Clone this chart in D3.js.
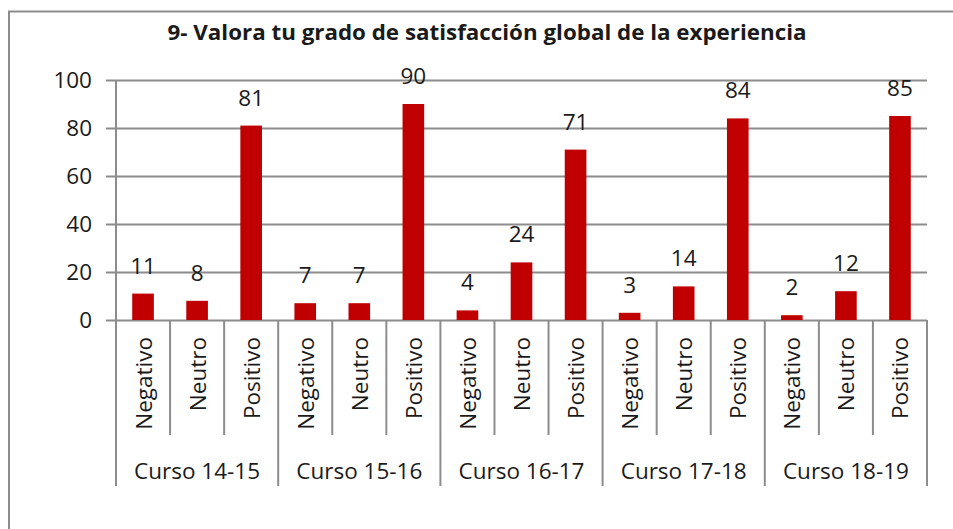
<!DOCTYPE html>
<html>
<head>
<meta charset="utf-8">
<script src="https://cdn.jsdelivr.net/npm/d3@7"></script>
<style>
  body { margin: 0; background: #fff; }
  text { font-family: "Open Sans", Lato, sans-serif; fill: #1a1a1a; }
</style>
</head>
<body>
<div id="chart"></div>
<script>
// Data
var courses = ["Curso 14-15", "Curso 15-16", "Curso 16-17", "Curso 17-18", "Curso 18-19"];
var answers = ["Negativo", "Neutro", "Positivo"];
var valuesByCourse = [
  [11, 8, 81],
  [7, 7, 90],
  [4, 24, 71],
  [3, 14, 84],
  [2, 12, 85]
];
var yTicks = [0, 20, 40, 60, 80, 100];
var title = "9- Valora tu grado de satisfacción global de la experiencia";

// SVG Dimensions
var svgWidth = 953;
var svgHeight = 529;

var margin = { top: 80, right: 26, bottom: 209, left: 116 };
var width = svgWidth - margin.left - margin.right;
var height = svgHeight - margin.top - margin.bottom;

var gridColor = "#8c8c8c";
var barColor = "#c00000";
var fontSize = "22.5px";

// flat rows for the bars
var rows = [];
courses.forEach(function (c, i) {
  answers.forEach(function (a, j) {
    rows.push({ course: c, answer: a, key: c + "|" + a, value: valuesByCourse[i][j], idx: i * 3 + j });
  });
});

var svg = d3.select("#chart")
  .append("svg")
  .attr("width", svgWidth)
  .attr("height", svgHeight);

// chart border
svg.append("rect")
  .attr("x", 9)
  .attr("y", 11.5)
  .attr("width", svgWidth + 10)
  .attr("height", svgHeight + 10)
  .attr("fill", "none")
  .attr("stroke", gridColor)
  .attr("stroke-width", 2);

svg.append("text")
  .attr("x", 487)
  .attr("y", 40)
  .attr("text-anchor", "middle")
  .attr("textLength", 639)
  .attr("lengthAdjust", "spacingAndGlyphs")
  .style("font-size", "21px")
  .style("font-weight", "bold")
  .text(title);

var g = svg.append("g")
  .attr("transform", `translate(${margin.left}, ${margin.top})`);

// Scales
var x = d3.scaleBand()
  .domain(rows.map(d => d.key))
  .range([0, width])
  .paddingInner(0.6)
  .paddingOuter(0.3);

var y = d3.scaleLinear()
  .domain([0, 100])
  .range([height, 0]);

// gridlines
var grid = g.append("g")
  .call(d3.axisLeft(y).tickValues(yTicks).tickSize(-width).tickFormat(""));
grid.select(".domain").remove();
grid.selectAll("line").attr("stroke", gridColor).attr("stroke-width", 2);

// y axis ticks and labels
var yAxis = g.append("g")
  .call(d3.axisLeft(y).tickValues(yTicks).tickSize(10).tickSizeOuter(0).tickPadding(14));
yAxis.select(".domain").remove();
yAxis.selectAll("line").attr("stroke", gridColor).attr("stroke-width", 2);
yAxis.selectAll("text")
  .style("font-size", fontSize)
  .style("font-family", "'Open Sans', sans-serif")
  .attr("fill", "#1a1a1a");

// y axis line, running down through the category area
g.append("line")
  .attr("x1", 0).attr("x2", 0)
  .attr("y1", 0).attr("y2", height + 166)
  .attr("stroke", gridColor).attr("stroke-width", 2);

// category separators
var step = x.step();
var half = (step - x.bandwidth()) / 2;
var bounds = rows.map(d => ({ pos: x(d.key) - half, idx: d.idx }));
bounds.push({ pos: x(rows[rows.length - 1].key) + x.bandwidth() + half, idx: rows.length });

g.append("g").selectAll("line")
  .data(bounds.filter(d => d.idx > 0))
  .enter()
  .append("line")
  .attr("x1", d => d.pos).attr("x2", d => d.pos)
  .attr("y1", height)
  .attr("y2", d => d.idx % 3 === 0 ? height + 166 : height + 115)
  .attr("stroke", gridColor)
  .attr("stroke-width", 2);

// Bars
g.selectAll("rect.bar")
  .data(rows)
  .enter()
  .append("rect")
  .classed("bar", true)
  .attr("x", d => x(d.key))
  .attr("y", d => y(d.value))
  .attr("width", x.bandwidth())
  .attr("height", d => height - y(d.value))
  .attr("fill", barColor);

// value labels
g.append("g").selectAll("text")
  .data(rows)
  .enter()
  .append("text")
  .attr("x", d => x(d.key) + x.bandwidth() / 2)
  .attr("y", d => y(d.value) - 20)
  .attr("text-anchor", "middle")
  .style("font-size", fontSize)
  .text(d => d.value);

// rotated answer labels
g.append("g").selectAll("text")
  .data(rows)
  .enter()
  .append("text")
  .attr("transform", d => `translate(${x(d.key) + x.bandwidth() / 2}, ${height + 17}) rotate(-90)`)
  .attr("text-anchor", "end")
  .attr("dominant-baseline", "central")
  .style("font-size", fontSize)
  .text(d => d.answer);

// course labels
g.append("g").selectAll("text")
  .data(courses)
  .enter()
  .append("text")
  .attr("x", (d, i) => (bounds[i * 3].pos + bounds[i * 3 + 3].pos) / 2)
  .attr("y", height + 159)
  .attr("text-anchor", "middle")
  .style("font-size", fontSize)
  .text(d => d);
</script>
</body>
</html>
